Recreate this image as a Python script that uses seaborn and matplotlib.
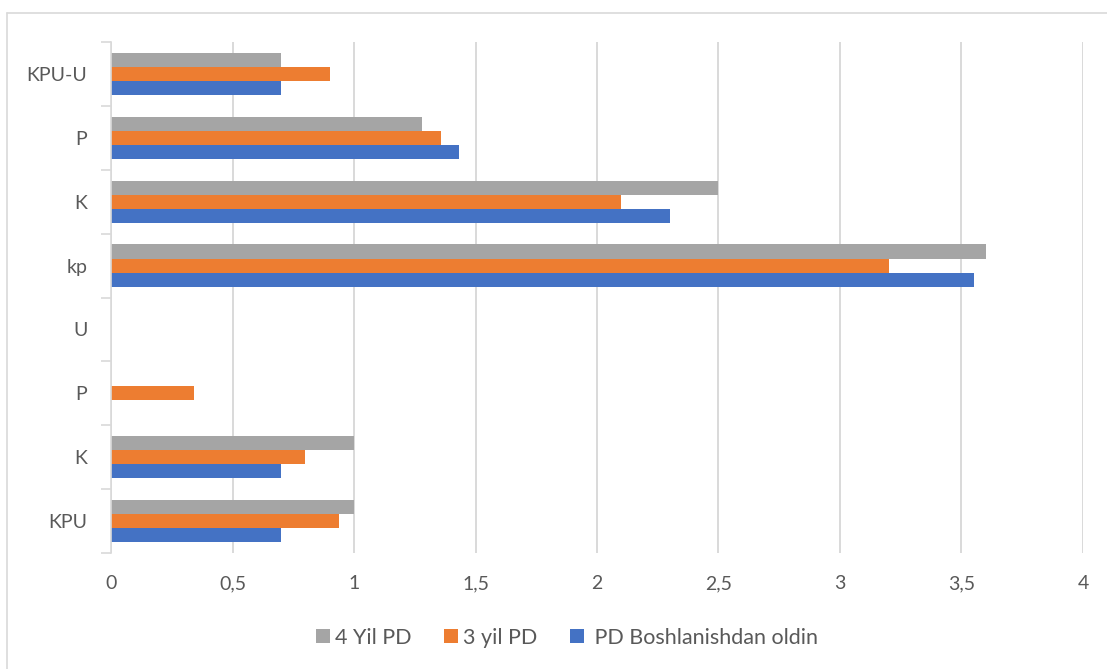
import matplotlib
matplotlib.use("Agg")
import matplotlib.pyplot as plt
from matplotlib.lines import Line2D
from matplotlib.ticker import FixedLocator, FixedFormatter
import seaborn as sns
import pandas as pd

# Categories, top to bottom (labels repeat, so keys keep them distinct)
cat_keys = ["KPU-U", "P_b", "K_b", "kp", "U", "P_a", "K_a", "KPU"]
cat_labels = ["KPU-U", "P", "K", "kp", "U", "P", "K", "KPU"]

series_names = ["4 Yil PD", "3 yil PD", " PD Boshlanishdan oldin"]
yil4_pd = [0.7, 1.28, 2.5, 3.6, 0.0, 0.0, 1.0, 1.0]
yil3_pd = [0.9, 1.36, 2.1, 3.2, 0.0, 0.34, 0.8, 0.94]
pd_oldin = [0.7, 1.43, 2.3, 3.55, 0.0, 0.0, 0.7, 0.7]
series_colors = ["#A5A5A5", "#ED7D31", "#4472C4"]

x_ticks = [0, 0.5, 1, 1.5, 2, 2.5, 3, 3.5, 4]
x_tick_labels = ["0", "0,5", "1", "1,5", "2", "2,5", "3", "3,5", "4"]

rows = []
for name, vals in zip(series_names, [yil4_pd, yil3_pd, pd_oldin]):
    for key, v in zip(cat_keys, vals):
        rows.append({"cat": key, "series": name, "value": v})
df = pd.DataFrame(rows)

sns.set_theme(style="white")
plt.rcParams["font.family"] = ["Lato", "DejaVu Sans"]
text_color = "#595959"
line_color = "#D9D9D9"

fig = plt.figure(figsize=(11.07, 6.69), dpi=100)
ax = fig.add_axes([0.1003, 0.1734, 0.8780, 0.7638])

sns.barplot(
    data=df, x="value", y="cat", hue="series",
    order=cat_keys, hue_order=series_names,
    palette=series_colors, orient="h", width=0.66,
    linewidth=0, saturation=1, ax=ax, legend=True,
)

ax.set_xlim(0, 4)
ax.set_ylim(len(cat_keys) - 0.5, -0.5)
ax.set_xlabel("")
ax.set_ylabel("")

# x axis: gridlines only, comma decimal labels
ax.xaxis.set_major_locator(FixedLocator(x_ticks))
ax.xaxis.set_major_formatter(FixedFormatter(x_tick_labels))
ax.grid(axis="x", color=line_color, linewidth=1.4)
ax.set_axisbelow(True)
ax.tick_params(axis="x", length=0, pad=16, labelsize=14, labelcolor=text_color)

# y axis: category labels, tick marks between categories
ax.set_yticks(range(len(cat_keys)))
ax.set_yticklabels(cat_labels)
ax.tick_params(axis="y", which="major", length=0, pad=17, labelsize=14, labelcolor=text_color)
ax.set_yticks([i - 0.5 for i in range(len(cat_keys) + 1)], minor=True)
ax.tick_params(axis="y", which="minor", length=7, width=1.2, color=line_color, left=True)

for side in ["top", "right", "bottom"]:
    ax.spines[side].set_visible(False)
ax.spines["left"].set_color(line_color)
ax.spines["left"].set_linewidth(1.2)

handles, labels = ax.get_legend_handles_labels()
ax.get_legend().remove()
fig.legend(
    handles, labels, loc="center", bbox_to_anchor=(0.512, 0.047),
    ncol=3, frameon=False, fontsize=15.5, labelcolor=text_color,
    handlelength=0.65, handleheight=0.65, handletextpad=0.25, columnspacing=1.5,
)

# chart frame
W, H = 1107, 669
fig.add_artist(Line2D([7 / W, 1.0], [1 - 13 / H, 1 - 13 / H], color=line_color, linewidth=1.2, transform=fig.transFigure))
fig.add_artist(Line2D([7 / W, 7 / W], [0.0, 1 - 13 / H], color=line_color, linewidth=1.2, transform=fig.transFigure))

fig.savefig("out.png", dpi=100, facecolor="white")
